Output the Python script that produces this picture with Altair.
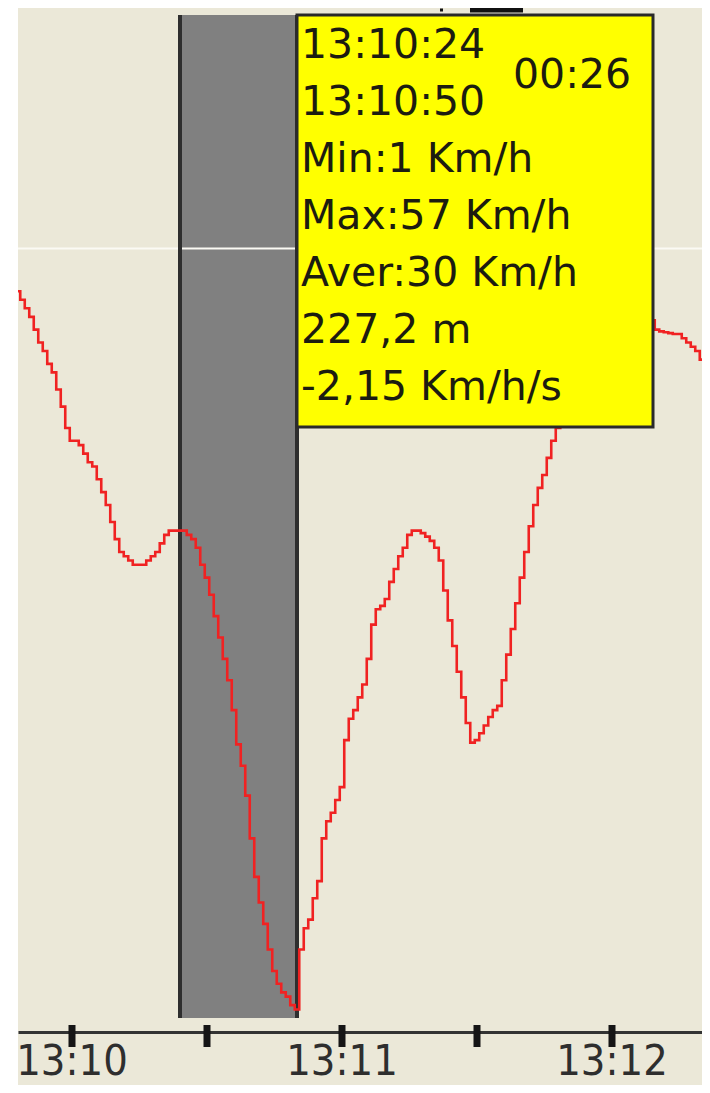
import altair as alt
import pandas as pd

# ---------------- data ----------------
# one speed sample per second; time in seconds after 13:10:00
t_first, t_last = -12, 142
seconds = list(range(t_first, t_last + 1))
speed_kmh = [
    85, 84, 83, 82, 80.5, 79, 78, 76.5, 75.5, 73.5, 71.5, 69,          # -12 .. -1
    67.5, 67.5, 67, 66, 65, 64.5, 63, 61.5, 60, 58,                    # 0 .. 9
    56, 54.5, 54, 53.5, 53, 53, 53, 53.5, 54, 54.5,                    # 10 .. 19
    55.5, 56.5, 57, 57, 57, 57, 56.5, 56, 55, 53,                      # 20 .. 29
    51.5, 49.5, 47, 44.5, 42, 39.5, 36, 32, 29.5, 26,                  # 30 .. 39
    21, 16.5, 13.5, 11, 8, 5.5, 4, 3, 2.5, 1.5,                        # 40 .. 49
    1, 8, 10.5, 11.5, 14, 16, 21, 23, 24, 25.5,                        # 50 .. 59
    27, 32.5, 35, 36, 37.5, 39, 42, 46, 47.8, 48.2,                    # 60 .. 69
    49, 51, 52.5, 54, 55, 56.5, 57, 57, 56.7, 56.3,                    # 70 .. 79
    55.8, 55, 53.5, 50, 46.5, 43.5, 40.5, 37.5, 34.5, 32.2,            # 80 .. 89
    32.5, 33.3, 34.2, 35.2, 36, 36.5, 39.5, 42.5, 45.5, 48.5,          # 90 .. 99
    51.5, 54.5, 57.5, 60, 62, 63.5, 65.5, 67.5, 69, 70.5,              # 100 .. 109
    72, 73, 74.5, 75.5, 76.5, 77.5, 78.5, 79, 80, 80.5,                # 110 .. 119
    81, 81.5, 82, 82, 82, 82, 82, 82, 82, 81.6,                        # 120 .. 129
    80.5, 80.3, 80.2, 80.1, 80, 80, 79.5, 79, 78.5, 78,                # 130 .. 139
    77, 76.5, 76,                                                      # 140 .. 142
]
assert len(seconds) == len(speed_kmh)

# selected interval and its statistics
sel_start_s = 24
sel_end_s = 50
sel_from = "13:10:24"
sel_to = "13:10:50"
sel_duration = "00:26"
sel_min = 1
sel_max = 57
sel_avg = 30
sel_distance = "227,2 m"
sel_accel = "-2,15 Km/h/s"

tick_seconds = [0, 30, 60, 90, 120]
label_seconds = [0, 60, 120]
label_texts = ["13:10", "13:11", "13:12"]
grid_kmh = [90]

# ---------------- layout / styles ----------------
BEIGE = "#ebe8d8"
W, H = 684, 1017
x_scale = alt.Scale(domain=[-12, 140.0], nice=False, zero=False)
y_scale = alt.Scale(domain=[-1.64, 117.3], nice=False, zero=False)


def X(f="t"):
    return alt.X(f"{f}:Q", scale=x_scale, title="")


def Y(f="v"):
    return alt.Y(f"{f}:Q", scale=y_scale, title="")


one = pd.DataFrame({"a": [0]})
speed_df = pd.DataFrame({"t": seconds, "v": speed_kmh})
sel_df = pd.DataFrame({"t": [sel_start_s], "t2": [sel_end_s], "v": [0]})
border_df = pd.DataFrame({"t": [sel_start_s, sel_end_s], "v": [0, 0]})
grid_df = pd.DataFrame({"v": grid_kmh})
tick_df = pd.DataFrame({"t": tick_seconds})
label_df = pd.DataFrame({"t": label_seconds, "label": label_texts})

white_strip = alt.Chart(one).mark_rect(color="white").encode(
    x=alt.value(-10), x2=alt.value(0), y=alt.value(-8), y2=alt.value(1080)
)

gray = alt.Chart(sel_df).mark_rect(color="#808080").encode(
    x=X("t"), x2=alt.X2("t2:Q"), y=Y("v"), y2=alt.value(0)
)

grid = alt.Chart(grid_df).mark_rule(color="#fbfaf4", strokeWidth=2).encode(
    y=Y("v"), x=alt.value(0), x2=alt.value(W)
)

borders = alt.Chart(border_df).mark_rule(color="#2e2e2e", strokeWidth=4).encode(
    x=X("t"), y=Y("v"), y2=alt.value(0)
)

line = alt.Chart(speed_df).mark_line(
    color="#f02222", strokeWidth=2.6, interpolate="step", clip=True
).encode(x=X("t"), y=Y("v"))

box_df = pd.DataFrame({"t": [sel_end_s]})
box = alt.Chart(box_df).mark_rect(fill="#ffff00", stroke="#2a2a2a", strokeWidth=3).encode(
    x=X("t"), x2=alt.value(635), y=alt.value(0), y2=alt.value(412)
)

tip_lines = [
    sel_from,
    sel_to,
    f"Min:{sel_min} Km/h",
    f"Max:{sel_max} Km/h",
    f"Aver:{sel_avg} Km/h",
    sel_distance,
    sel_accel,
]
text_layers = []
for i, s in enumerate(tip_lines):
    d = pd.DataFrame({"t": [sel_end_s], "label": [s]})
    text_layers.append(
        alt.Chart(d).mark_text(
            align="left", baseline="alphabetic", font="DejaVu Sans",
            fontSize=41, color="#1c1c10", dx=4
        ).encode(x=X("t"), y=alt.value(43 + 57 * i), text="label:N")
    )
dur_df = pd.DataFrame({"t": [sel_end_s], "label": [sel_duration]})
text_layers.append(
    alt.Chart(dur_df).mark_text(
        align="left", baseline="alphabetic", font="DejaVu Sans",
        fontSize=41, color="#1c1c10", dx=216
    ).encode(x=X("t"), y=alt.value(73), text="label:N")
)

ticks = alt.Chart(tick_df).mark_rule(color="#151515", strokeWidth=7).encode(
    x=X("t"), y=alt.value(1010), y2=alt.value(1032)
)

labels = alt.Chart(label_df).mark_text(
    font="DejaVu Sans Condensed", fontSize=43, color="#2e2e2e",
    baseline="alphabetic", align="center"
).encode(x=X("t"), y=alt.value(1060), text="label:N")

top_bar = alt.Chart(one).mark_rule(color="#111111", strokeWidth=5).encode(
    x=alt.value(452), x2=alt.value(505), y=alt.value(-5)
)
top_dot = alt.Chart(one).mark_rule(color="#111111", strokeWidth=3).encode(
    x=alt.value(422), x2=alt.value(425), y=alt.value(-5)
)

chart = alt.layer(
    white_strip, gray, grid, borders, line, box, *text_layers,
    ticks, labels, top_bar, top_dot
).properties(
    width=W,
    height=H,
    autosize=alt.AutoSizeParams(type="none"),
    padding={"left": 10, "top": 7, "right": 0, "bottom": 53},
    background=BEIGE,
).configure_view(
    strokeWidth=0
).configure_axisX(
    domainColor="#333333", domainWidth=3, ticks=False, labels=False, grid=False
).configure_axisY(
    domain=False, ticks=False, labels=False, grid=False
)

chart.save("out.html", embed_options={"renderer": "svg", "actions": False})
